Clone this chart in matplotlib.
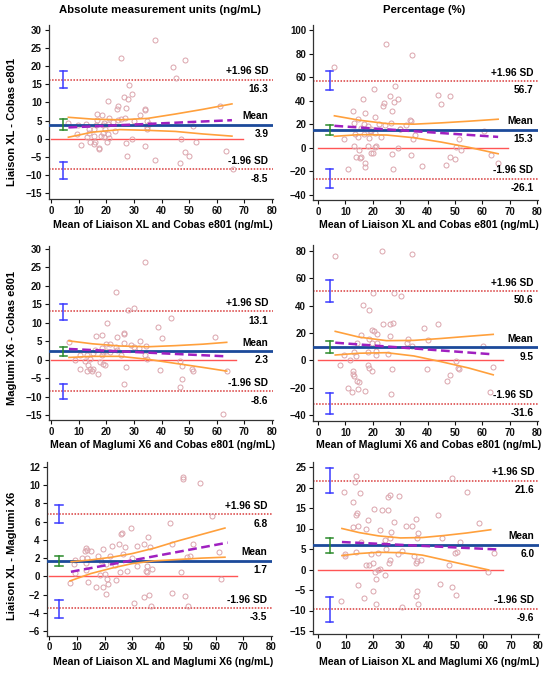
import matplotlib
matplotlib.use("Agg")
import matplotlib.pyplot as plt

plt.rcParams['font.family'] = ['Liberation Sans', 'DejaVu Sans']
plt.rcParams['font.weight'] = 'bold'

W, H = 550, 674

# ---------------- data ----------------
# top left: Liaison XL - Cobas e801, absolute
tl_x = [37.8, 25.2, 48.6, 44.0, 45.4, 28.1, 29.3, 26.5, 27.9, 20.7, 24.2, 23.8, 27.0, 33.9, 34.0, 61.0,
        32.2, 16.5, 18.4, 26.7, 21.0, 24.3, 25.3, 16.7, 34.6, 30.1, 35.4, 6.3, 9.9, 12.8, 16.3, 18.7,
        19.2, 20.8, 22.3, 51.4, 34.9, 13.9, 15.7, 19.5, 23.1, 34.6, 9.5, 13.6, 18.7, 20.5, 13.1, 15.7,
        18.1, 19.3, 21.1, 29.2, 46.9, 14.1, 16.1, 20.1, 52.4, 11.0, 15.4, 27.2, 34.2, 17.5, 17.5, 27.5,
        48.4, 50.0, 63.5, 37.7, 46.6, 65.8]
tl_y = [27.3, 22.2, 21.8, 19.9, 16.8, 14.8, 12.2, 11.6, 11.0, 10.4, 9.1, 8.3, 8.4, 8.3, 7.8, 8.9,
        6.4, 6.9, 6.6, 5.7, 5.7, 5.1, 5.3, 5.2, 4.9, 4.8, 4.0, 4.3, 3.7, 4.0, 3.7, 3.8,
        4.4, 4.0, 4.5, 3.5, 3.1, 2.8, 2.6, 2.8, 2.1, 2.6, 1.4, 1.6, 1.5, 1.3, 0.5, 0.7,
        0.7, 0.5, 0.3, 0.0, 0.0, -0.9, -0.9, -0.9, -0.9, -1.8, -1.4, -1.3, -2.0, -2.5, -2.9, -4.9,
        -3.8, -4.8, -3.5, -6.0, -6.8, -8.4]
tl_reg_x, tl_reg_y = [6.3, 65.5], [3.1, 5.1]
tl_up_x = [6.3, 15, 25, 35, 45, 55, 65.5]
tl_up_y = [5.9, 5.4, 5.2, 5.6, 6.8, 8.1, 9.6]
tl_lo_x = [6.3, 15, 25, 35, 45, 55, 65.5]
tl_lo_y = [0.4, 1.8, 2.5, 2.3, 2.0, 1.3, 0.7]
tl_stats = dict(mean=3.9, hi=16.3, lo=-8.5, zero_end=69.5, bar_x=4.5,
                hi_ci=(14.0, 18.8), lo_ci=(-11.2, -6.4), mean_ci=(2.4, 5.3))

# top right: Liaison XL - Cobas e801, percentage
tr_x = [24.9, 34.3, 5.9, 20.5, 28.1, 29.1, 26.3, 16.4, 43.7, 48.3, 27.8, 24.1, 23.7, 45.1, 26.9, 17.0,
        20.8, 33.7, 33.8, 14.7, 13.2, 16.8, 24.6, 26.8, 32.1, 18.1, 19.1, 29.9, 60.6, 16.9, 14.6, 9.4,
        34.6, 51.5, 13.2, 20.9, 18.4, 29.1, 50.3, 52.1, 14.9, 14.0, 15.6, 15.2, 19.4, 27.1, 34.1, 17.3,
        17.3, 11.1, 27.5, 37.9, 46.6, 48.2, 49.9, 63.1, 65.6, 19.3, 20.8, 22.3, 21.1, 18.7, 23.1, 15.7,
        19.5, 13.6, 12.8, 35.4, 30.1, 20.1]
tr_y = [88.1, 79.0, 68.6, 50.1, 52.4, 41.1, 43.6, 41.1, 44.8, 44.2, 38.8, 38.2, 35.1, 36.8, 31.2, 30.0,
        26.6, 23.8, 22.7, 24.1, 20.7, 20.4, 19.8, 21.2, 19.5, 18.7, 14.7, 15.6, 14.2, 11.6, 8.8, 7.1,
        7.6, 7.1, 2.0, 0.8, 1.4, 0.0, 0.6, -1.7, -1.7, -7.4, -7.4, -8.8, -4.2, -4.8, -6.2, -13.0,
        -15.9, -18.1, -17.8, -15.6, -14.4, -7.9, -9.3, -5.7, -12.5, 16.2, 12.4, 20.2, 1.4, 8.0, 9.1, 16.6,
        14.4, 11.8, 31.2, 11.3, 16.0, -4.5]
tr_reg_x, tr_reg_y = [6.0, 65.8], [18.7, 9.3]
tr_up_x = [6, 15, 25, 35, 45, 55, 65.8]
tr_up_y = [27.2, 23.5, 20.6, 20.1, 21.2, 22.6, 24.3]
tr_lo_x = [6, 15, 25, 35, 45, 55, 65.8]
tr_lo_y = [9.8, 11.2, 10.9, 8.6, 4.9, 0.5, -5.0]
tr_stats = dict(mean=15.3, hi=56.7, lo=-26.1, zero_end=69.3, bar_x=4.3,
                hi_ci=(49.0, 64.9), lo_ci=(-34.0, -18.1), mean_ci=(10.8, 19.6))

# middle left: Maglumi X6 - Cobas e801, absolute
ml_x = [34.1, 23.4, 30.0, 27.7, 43.4, 20.4, 38.7, 59.3, 40.0, 24.0, 18.3, 16.4, 26.4, 26.4, 32.2, 26.3,
        6.6, 19.9, 21.4, 29.0, 30.1, 31.8, 34.3, 23.4, 23.8, 18.3, 16.0, 19.9, 15.3, 18.9, 21.3, 10.5,
        13.0, 18.4, 25.4, 33.9, 34.6, 8.6, 12.4, 14.0, 17.7, 18.9, 19.6, 13.3, 14.2, 15.2, 10.6, 14.8,
        12.9, 17.1, 27.0, 39.5, 46.6, 47.6, 51.2, 51.3, 63.7, 47.6, 46.6, 26.6, 62.3]
ml_y = [26.4, 18.3, 13.9, 13.5, 11.2, 9.9, 8.8, 6.2, 6.0, 6.2, 6.6, 6.4, 7.2, 6.9, 5.1, 4.5,
        4.7, 4.3, 4.3, 3.9, 3.5, 3.1, 3.7, 3.3, 2.6, 3.2, 2.7, 2.4, 1.8, 2.2, 2.0, 1.2,
        1.4, 1.3, 1.3, 1.3, 0.2, -0.1, -0.3, 0.1, -0.6, -1.3, -1.5, -1.4, -2.4, -2.4, -2.4, -3.1,
        -3.1, -3.8, -1.9, -2.8, -0.3, -1.7, -2.4, -3.0, -3.0, -5.2, -7.3, -6.7, -14.8]
ml_reg_x, ml_reg_y = [6.5, 63.6], [2.9, 0.9]
ml_up_x = [6.5, 15, 25, 35, 45, 55, 63.6]
ml_up_y = [5.1, 4.3, 3.7, 3.5, 3.8, 4.2, 4.7]
ml_lo_x = [6.5, 15, 25, 35, 45, 55, 63.6]
ml_lo_y = [0.6, 0.9, 0.9, 0.1, -1.0, -2.1, -3.1]
ml_stats = dict(mean=2.3, hi=13.1, lo=-8.6, zero_end=66.9, bar_x=4.5,
                hi_ci=(10.8, 15.0), lo_ci=(-10.7, -6.5), mean_ci=(1.0, 3.4))

# middle right: Maglumi X6 - Cobas e801, percentage
mr_x = [6.3, 23.4, 34.2, 20.1, 27.8, 30.2, 16.4, 18.6, 38.7, 43.7, 27.3, 26.4, 23.9, 19.7, 20.4, 26.3,
        40.2, 15.8, 21.5, 18.8, 14.2, 19.7, 21.6, 32.4, 32.8, 60.2, 34.3, 13.2, 13.7, 18.4, 21.1, 21.2,
        25.7, 9.6, 11.8, 8.1, 18.1, 18.7, 19.7, 12.7, 12.9, 13.2, 14.1, 15.0, 10.8, 12.6, 14.6, 17.0,
        26.8, 27.2, 39.8, 50.4, 51.2, 51.5, 48.1, 47.0, 63.8, 62.7]
mr_y = [76.2, 80.0, 78.1, 49.4, 49.6, 47.2, 40.4, 37.0, 23.4, 26.5, 27.5, 26.5, 26.8, 22.1, 21.2, 17.8,
        14.8, 18.5, 19.2, 15.8, 12.4, 12.9, 12.4, 12.9, 15.3, 10.5, 10.7, 6.1, 3.2, 5.8, 6.8, 3.9,
        4.4, 3.6, 0.0, -3.4, -3.4, -5.8, -7.8, -7.8, -10.2, -11.4, -14.8, -16.1, -20.4, -23.4, -20.9, -22.4,
        -24.6, -6.6, -6.6, -0.2, -5.4, -6.3, -10.7, -15.1, -4.6, -23.4]
mr_reg_x, mr_reg_y = [6.3, 64.0], [12.9, 4.4]
mr_up_x = [6.3, 15, 25, 35, 45, 55, 64]
mr_up_y = [21.2, 17.0, 14.4, 14.6, 16.0, 17.6, 19.0]
mr_lo_x = [6.3, 15, 25, 35, 45, 55, 64]
mr_lo_y = [3.9, 5.2, 5.6, 3.2, -1.0, -5.6, -10.6]
mr_stats = dict(mean=9.5, hi=50.6, lo=-31.6, zero_end=67.4, bar_x=4.3,
                hi_ci=(42.8, 58.6), lo_ci=(-39.4, -23.6), mean_ci=(5.6, 14.4))

# bottom left: Liaison XL - Maglumi X6, absolute
bl_x = [48.3, 48.3, 54.5, 58.7, 43.6, 29.4, 25.9, 26.4, 35.5, 44.5, 52.0, 61.1, 13.3, 13.7, 12.9, 15.1,
        19.6, 22.8, 25.2, 27.3, 31.6, 34.2, 36.5, 11.8, 13.7, 17.8, 22.0, 26.5, 9.2, 13.4, 18.9, 29.8,
        8.9, 20.7, 23.7, 31.8, 35.2, 37.0, 35.0, 35.4, 47.7, 49.9, 50.8, 9.3, 13.5, 18.3, 20.1, 25.5,
        28.1, 7.7, 14.2, 21.0, 24.1, 21.4, 16.9, 19.6, 20.7, 44.2, 36.0, 49.0, 34.1, 30.5, 36.6, 50.1,
        62.0]
bl_y = [10.9, 10.7, 10.2, 6.6, 5.8, 5.3, 4.7, 4.8, 4.35, 3.5, 3.5, 2.7, 3.1, 2.9, 2.8, 2.8,
        3.0, 3.3, 3.6, 3.2, 3.3, 3.6, 3.2, 2.0, 2.0, 2.2, 2.2, 2.5, 1.8, 1.5, 1.7, 2.0,
        1.4, 1.3, 1.2, 1.1, 1.1, 0.8, 0.6, 0.5, 0.5, 2.1, 2.2, 0.4, 0.7, 0.1, 0.3, 0.5,
        0.6, -0.7, -0.6, -0.3, -0.4, -0.8, -1.2, -1.2, -1.9, -1.8, -2.0, -2.2, -2.3, -2.9, -3.3, -3.3,
        -0.3]
bl_reg_x, bl_reg_y = [7.9, 64.4], [0.5, 3.7]
bl_up_x = [8, 15, 22.6, 30, 38, 46.6, 55, 63.4]
bl_up_y = [1.6, 1.8, 2.1, 2.5, 3.1, 3.9, 4.6, 5.3]
bl_lo_x = [7.6, 15, 22.6, 30, 38, 46.6, 55, 63.4]
bl_lo_y = [-0.5, 0.3, 0.9, 1.4, 1.7, 1.85, 2.0, 2.1]
bl_stats = dict(mean=1.7, hi=6.8, lo=-3.5, zero_end=67.7, bar_x=3.6,
                hi_ci=(5.8, 7.8), lo_ci=(-4.6, -2.6), mean_ci=(1.1, 2.2))

# bottom right: Liaison XL - Maglumi X6, percentage
br_x = [13.8, 13.3, 48.6, 9.4, 15.2, 54.3, 12.6, 29.6, 26.3, 25.5, 14.0, 13.9, 20.4, 23.3, 25.4, 43.7,
        35.6, 18.2, 27.7, 58.5, 12.7, 14.5, 17.4, 22.7, 31.9, 34.3, 26.6, 36.5, 45.1, 26.2, 35.9, 51.8,
        24.4, 15.5, 9.7, 9.9, 13.9, 19.3, 21.8, 24.8, 29.2, 30.5, 35.0, 36.0, 35.7, 37.3, 26.3, 25.9,
        49.8, 50.6, 63.9, 17.5, 18.4, 20.1, 20.9, 21.8, 22.4, 21.2, 24.5, 47.7, 61.9, 14.6, 44.2, 48.8,
        50.0, 36.0, 35.7, 36.4, 8.2, 16.8, 20.0, 21.0, 30.7]
br_y = [22.8, 21.3, 22.4, 18.9, 18.7, 18.9, 16.5, 17.9, 18.1, 17.8, 13.7, 13.2, 14.7, 14.4, 14.4, 13.3,
        12.3, 12.1, 11.6, 11.3, 10.3, 10.5, 10.0, 9.7, 10.5, 10.5, 9.1, 8.8, 7.8, 7.7, 7.6, 6.7,
        7.2, 6.7, 3.7, 3.2, 4.3, 3.7, 4.1, 5.0, 3.7, 4.5, 3.2, 2.0, 1.5, 2.4, 2.4, 1.5,
        4.1, 4.3, 4.1, 1.1, 1.1, 1.5, -0.6, 0.0, 0.1, -2.2, -1.4, 1.1, -0.6, -3.9, -3.5, -4.3,
        -6.1, -5.3, -6.5, -8.5, -7.7, -6.9, -5.3, -8.4, -9.2]
br_reg_x, br_reg_y = [8.7, 64.9], [6.7, 4.9]
br_up_x = [8.7, 15, 22, 30, 38, 46, 54, 62.8]
br_up_y = [10.0, 9.0, 8.2, 7.7, 7.8, 8.3, 8.9, 9.7]
br_lo_x = [8.7, 15, 22, 30, 38, 46, 54, 62]
br_lo_y = [3.4, 3.9, 4.2, 4.1, 3.5, 2.3, 1.1, -0.1]
br_stats = dict(mean=6.0, hi=21.6, lo=-9.6, zero_end=67.3, bar_x=4.2,
                hi_ci=(18.75, 24.8), lo_ci=(-12.7, -6.7), mean_ci=(4.1, 7.7))

col_titles = ["Absolute measurement units (ng/mL)", "Percentage (%)"]
row_ylabels = ["Liaison XL - Cobas e801", "Maglumi X6 - Cobas e801", "Liaison XL - Maglumi X6"]
row_xlabels = ["Mean of Liaison XL and Cobas e801 (ng/mL)",
               "Mean of Maglumi X6 and Cobas e801 (ng/mL)",
               "Mean of Liaison XL and Maglumi X6 (ng/mL)"]

# ---------------- drawing ----------------
fig = plt.figure(figsize=(W / 100, H / 100), dpi=100)


def place(x0px, x80px, yv1, ypx1, yv2, ypx2, xlim, ylim):
    # build an axes whose data->pixel mapping matches the reference ticks
    sx = (x80px - x0px) / 80.0
    sy = (ypx2 - ypx1) / (yv1 - yv2)
    left = x0px + xlim[0] * sx
    right = x0px + xlim[1] * sx
    top = ypx1 - (ylim[1] - yv1) * sy
    bottom = ypx1 + (yv1 - ylim[0]) * sy
    ax = fig.add_axes([left / W, 1 - bottom / H, (right - left) / W, (bottom - top) / H])
    ax.set_xlim(*xlim)
    ax.set_ylim(*ylim)
    return ax


def panel(ax, px, py, rx, ry, ux, uy, lx, ly, st, yticks):
    ax.plot([0, st['zero_end']], [0, 0], color='#ff5555', lw=1.0, zorder=2)
    for v in (st['hi'], st['lo']):
        ax.axhline(v, color='#d83a3a', lw=1.1, ls=(0, (1, 1)), zorder=2)
    ax.plot(px, py, ls='none', marker='o', ms=3.6, mfc='none', mec='#dba4ac', mew=0.7, zorder=3)
    ax.axhline(st['mean'], color='#1c4a9a', lw=2.0, zorder=4)
    ax.plot(ux, uy, color='#ffa03c', lw=1.2, zorder=5)
    ax.plot(lx, ly, color='#ffa03c', lw=1.2, zorder=5)
    ax.plot(rx, ry, color='#a020c0', lw=1.8, ls=(0, (3.5, 1.8)), zorder=6)

    bx = st['bar_x']
    for (a, b), c in ((st['hi_ci'], '#3a3aff'), (st['lo_ci'], '#3a3aff'), (st['mean_ci'], '#2a8a2a')):
        ax.plot([bx, bx], [a, b], color=c, lw=1.1, zorder=7)
        ax.plot([bx - 1.3, bx + 1.3], [a, a], color=c, lw=1.1, zorder=7)
        ax.plot([bx - 1.3, bx + 1.3], [b, b], color=c, lw=1.1, zorder=7)

    tx = 78.7
    for v, name in ((st['hi'], '+1.96 SD'), (st['mean'], 'Mean'), (st['lo'], '-1.96 SD')):
        ax.annotate(name, (tx, v), xytext=(0, 2.5), textcoords='offset points',
                    ha='right', va='bottom', fontsize=7.3, fontweight='bold')
        ax.annotate('%.1f' % v, (tx, v), xytext=(0, -3), textcoords='offset points',
                    ha='right', va='top', fontsize=7.3, fontweight='bold')

    ax.spines['top'].set_visible(False)
    ax.spines['right'].set_visible(False)
    for s in ('left', 'bottom'):
        ax.spines[s].set_color('#333333')
        ax.spines[s].set_linewidth(0.9)
    ax.set_xticks(range(0, 81, 10))
    ax.set_yticks(yticks)
    ax.tick_params(direction='out', length=3, width=0.8, labelsize=7, pad=2, colors='#111111')
    for lab in ax.get_xticklabels() + ax.get_yticklabels():
        lab.set_fontweight('bold')


ax = place(51, 272, 30, 30, -15, 193, (-0.8, 80.5), (-16.7, 31.4))
panel(ax, tl_x, tl_y, tl_reg_x, tl_reg_y, tl_up_x, tl_up_y, tl_lo_x, tl_lo_y, tl_stats, range(-15, 31, 5))
ax = place(318, 537, 100, 30, -40, 195, (-1.8, 80.5), (-44, 104))
panel(ax, tr_x, tr_y, tr_reg_x, tr_reg_y, tr_up_x, tr_up_y, tr_lo_x, tr_lo_y, tr_stats, range(-40, 101, 20))
ax = place(51, 272, 30, 249, -15, 415, (-0.8, 80.5), (-16.4, 30.9))
panel(ax, ml_x, ml_y, ml_reg_x, ml_reg_y, ml_up_x, ml_up_y, ml_lo_x, ml_lo_y, ml_stats, range(-15, 31, 5))
ax = place(318, 537, 80, 251, -40, 415, (-1.8, 80.5), (-44.2, 84.4))
panel(ax, mr_x, mr_y, mr_reg_x, mr_reg_y, mr_up_x, mr_up_y, mr_lo_x, mr_lo_y, mr_stats, range(-40, 81, 20))
ax = place(49, 271, 12, 467, -6, 631, (-0.8, 80.5), (-6.5, 12.5))
panel(ax, bl_x, bl_y, bl_reg_x, bl_reg_y, bl_up_x, bl_up_y, bl_lo_x, bl_lo_y, bl_stats, range(-6, 13, 2))
ax = place(318, 538, 25, 467, -15, 631, (-1.8, 80.5), (-15.8, 26.3))
panel(ax, br_x, br_y, br_reg_x, br_reg_y, br_up_x, br_up_y, br_lo_x, br_lo_y, br_stats, range(-15, 26, 5))

# column titles
fig.text(160 / W, 1 - 10 / H, col_titles[0], ha='center', va='center', fontsize=8.2, fontweight='bold')
fig.text(424 / W, 1 - 10 / H, col_titles[1], ha='center', va='center', fontsize=8.2, fontweight='bold')

# row y labels (left column only)
for lab, yc in zip(row_ylabels, (122, 338, 556)):
    fig.text(12 / W, 1 - yc / H, lab, rotation=90, ha='center', va='center', fontsize=8, fontweight='bold')

# x labels under each panel
for lab, yc in zip(row_xlabels, (225, 445, 662)):
    fig.text(163 / W, 1 - yc / H, lab, ha='center', va='center', fontsize=7.6, fontweight='bold')
    fig.text(429 / W, 1 - yc / H, lab, ha='center', va='center', fontsize=7.6, fontweight='bold')

fig.savefig('out.png', dpi=100)
